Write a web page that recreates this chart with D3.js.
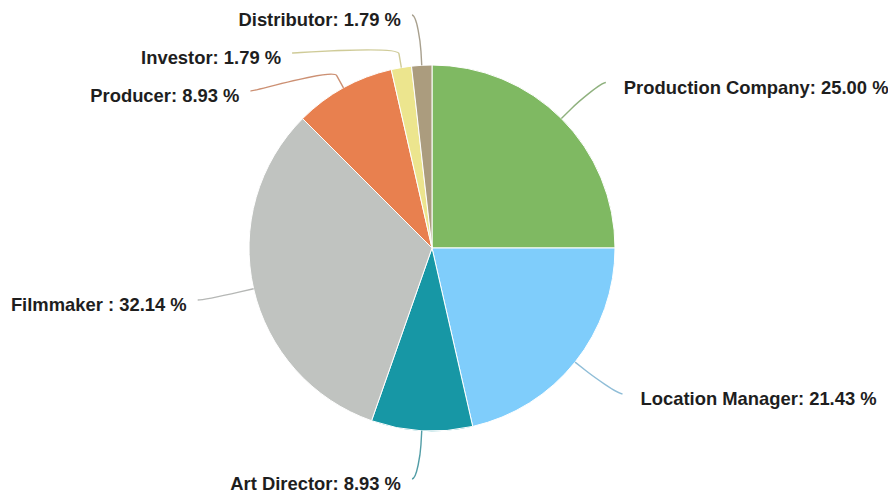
<!DOCTYPE html>
<html>
<head>
<meta charset="utf-8">
<script src="https://cdn.jsdelivr.net/npm/d3@7"></script>
<style>
  html, body { margin: 0; padding: 0; background: #fff; }
  svg { display: block; }
</style>
</head>
<body>
<svg id="chart" width="888" height="499"></svg>
<script>
// Respondent roles (counts), drawn clockwise from 12 o'clock
const categories = ["Production Company", "Location Manager", "Art Director", "Filmmaker ", "Producer", "Investor", "Distributor"];
const counts = [14, 12, 5, 18, 5, 1, 1];
const colors = ["#7fb962", "#7fcdfb", "#1797a5", "#c0c3c0", "#e8804f", "#ece58e", "#ab9c7e"];

const width = 888, height = 499;
const cx = 432, cy = 248, radius = 183;
const labelR = 240, labelYR = 234, breakR = radius + 14, slotGap = 38, topY = 15, bottomY = 479;

const total = d3.sum(counts);
const data = categories.map((name, i) => ({ name, value: counts[i], color: colors[i] }));
const arcs = d3.pie().sort(null).value(d => d.value)(data);
const arc = d3.arc().innerRadius(0).outerRadius(radius);

const svg = d3.select("#chart");
const g = svg.append("g").attr("transform", `translate(${cx},${cy})`);

// Slices
g.selectAll("path.slice")
  .data(arcs)
  .join("path")
  .attr("class", "slice")
  .attr("d", arc)
  .attr("fill", d => d.data.color)
  .attr("stroke", "#ffffff")
  .attr("stroke-width", 1);

// Label placement: natural position on an outer ring, then stacked per side to avoid overlap
arcs.forEach(d => {
  d.mid = (d.startAngle + d.endAngle) / 2;
  d.side = d.mid < Math.PI ? 1 : -1;
  d.edge = d3.pointRadial(d.mid, radius);
  d.brk = d3.pointRadial(d.mid, breakR);
  d.nat = d3.pointRadial(d.mid, labelYR);
});

[1, -1].forEach(side => {
  const col = arcs.filter(d => d.side === side).sort((a, b) => a.nat[1] - b.nat[1]);
  const top = topY - cy, bot = bottomY - cy;
  let prev = -Infinity;
  col.forEach(d => { d.ly = Math.max(d.nat[1], prev + slotGap, top); prev = d.ly; });
  let next = Infinity;
  col.slice().reverse().forEach(d => { d.ly = Math.min(d.ly, next - slotGap, bot); next = d.ly; });
  col.forEach(d => {
    const nearPole = Math.abs(d.ly) > labelR * 0.93;
    d.lx = nearPole
      ? d.brk[0] + side * 9
      : side * Math.sqrt(Math.max(labelR * labelR - d.ly * d.ly, 0));
  });
});

// Soft connectors from label to slice edge
g.selectAll("path.connector")
  .data(arcs)
  .join("path")
  .attr("class", "connector")
  .attr("fill", "none")
  .attr("stroke", d => d3.interpolateRgb(d.data.color, "#8a8a8a")(0.35))
  .attr("stroke-width", 1.4)
  .attr("stroke-opacity", 0.9)
  .attr("d", d => {
    const p = d3.path();
    const k = 0.6;
    p.moveTo(d.lx, d.ly);
    p.bezierCurveTo(
      d.lx - d.side * 5, d.ly,
      d.brk[0] + k * (d.brk[0] - d.edge[0]), d.brk[1] + k * (d.brk[1] - d.edge[1]),
      d.brk[0], d.brk[1]
    );
    p.lineTo(d.edge[0], d.edge[1]);
    return p.toString();
  });

// Labels
g.selectAll("text.label")
  .data(arcs)
  .join("text")
  .attr("class", "label")
  .attr("x", d => d.lx + (d.side > 0 ? 18 : -11))
  .attr("y", d => d.ly + 11)
  .attr("text-anchor", d => d.side > 0 ? "start" : "end")
  .attr("font-family", "'Liberation Sans', Arial, Helvetica, sans-serif")
  .attr("font-weight", "bold")
  .attr("font-size", 18.4)
  .attr("fill", "#1e1e1e")
  .text(d => `${d.data.name}: ${(d.data.value / total * 100).toFixed(2)} %`);
</script>
</body>
</html>
